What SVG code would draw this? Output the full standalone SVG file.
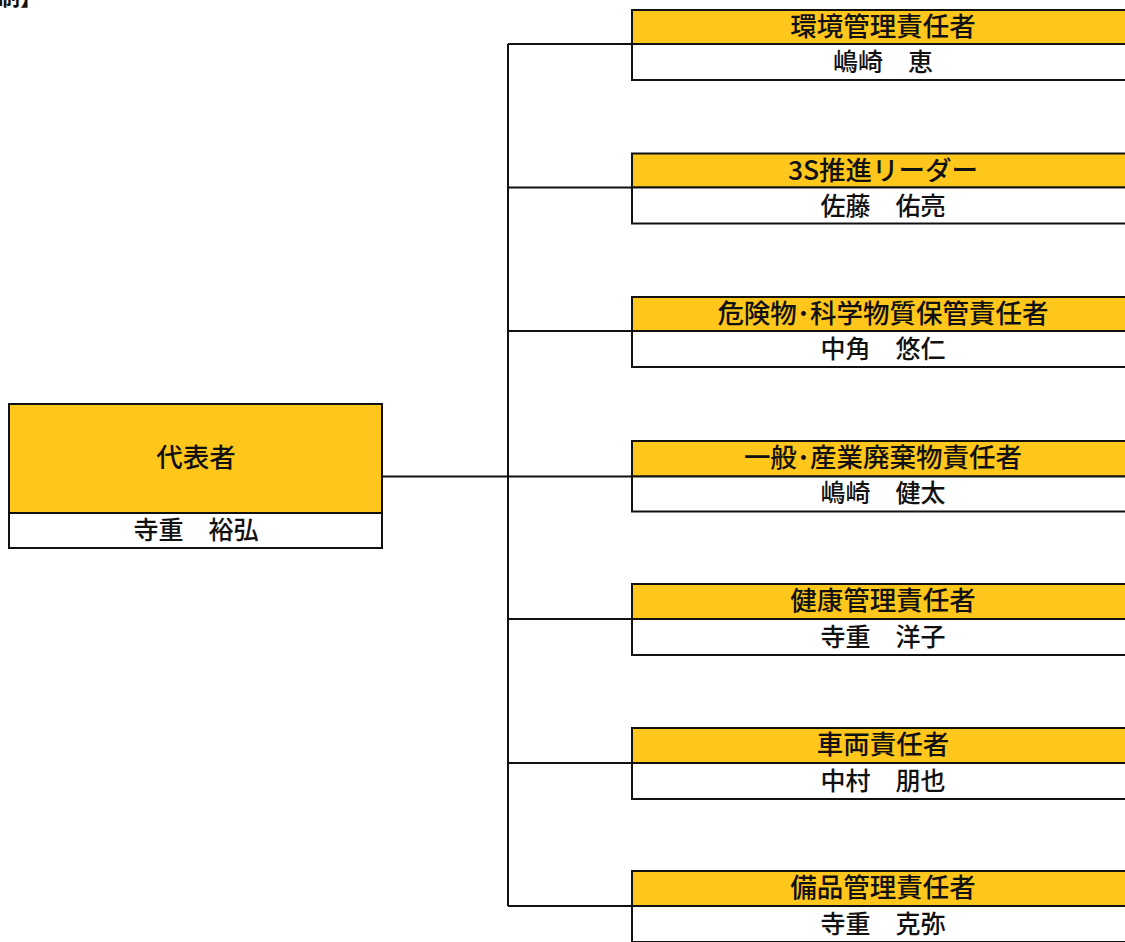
<svg xmlns="http://www.w3.org/2000/svg" width="1125" height="942" viewBox="0 0 1125 942">
<style>
.hd{fill:#FFC61C;stroke:#111;stroke-width:2}
.nm{fill:#fff;stroke:#111;stroke-width:2}
.t{font-family:"Noto Sans CJK JP","Liberation Sans",sans-serif;font-size:26.5px;fill:#111;text-anchor:middle;font-weight:500}
.n{font-family:"Noto Sans CJK JP","Liberation Sans",sans-serif;font-size:25px;fill:#111;text-anchor:middle;font-weight:500}
.c{fill:none;stroke:#111;stroke-width:2}
</style>
<rect width="1125" height="942" fill="#fff"/>
<text x="-2" y="5" style="font-family:'Noto Sans CJK JP',sans-serif;font-size:22px;font-weight:bold;fill:#111">制】</text>
<g id="connectors">
<path class="c" d="M382 476.5H632 M508 44V906 M508 44H632 M508 187.5H632 M508 331H632 M508 619H632 M508 763H632 M508 906H632"/>
</g>
<g id="rep">
<rect class="hd" x="9" y="404" width="373" height="109"/>
<rect class="nm" x="9" y="513" width="373" height="35"/>
<text class="t" x="196" y="467">代表者</text>
<text class="n" x="196" y="539">寺重　裕弘</text>
</g>
<g id="n1">
<rect class="hd" x="632" y="10" width="510" height="34"/>
<rect class="nm" x="632" y="44" width="510" height="36"/>
<text class="t" x="883" y="36">環境管理責任者</text>
<text class="n" x="883" y="71">嶋崎　恵</text>
</g>
<g id="n2">
<rect class="hd" x="632" y="153.5" width="510" height="34"/>
<rect class="nm" x="632" y="187.5" width="510" height="36"/>
<text class="t" x="883" y="179.5">3S推進リーダー</text>
<text class="n" x="883" y="214.5">佐藤　佑亮</text>
</g>
<g id="n3">
<rect class="hd" x="632" y="297" width="510" height="34"/>
<rect class="nm" x="632" y="331" width="510" height="36"/>
<text class="t" x="883" y="323">危険物･科学物質保管責任者</text>
<text class="n" x="883" y="358">中角　悠仁</text>
</g>
<g id="n4">
<rect class="hd" x="632" y="441" width="510" height="35.5"/>
<rect class="nm" x="632" y="476.5" width="510" height="35"/>
<text class="t" x="883" y="467">一般･産業廃棄物責任者</text>
<text class="n" x="883" y="502">嶋崎　健太</text>
</g>
<g id="n5">
<rect class="hd" x="632" y="584" width="510" height="35"/>
<rect class="nm" x="632" y="619" width="510" height="36"/>
<text class="t" x="883" y="610">健康管理責任者</text>
<text class="n" x="883" y="646">寺重　洋子</text>
</g>
<g id="n6">
<rect class="hd" x="632" y="728" width="510" height="35"/>
<rect class="nm" x="632" y="763" width="510" height="36"/>
<text class="t" x="883" y="754">車両責任者</text>
<text class="n" x="883" y="790">中村　朋也</text>
</g>
<g id="n7">
<rect class="hd" x="632" y="871" width="510" height="35"/>
<rect class="nm" x="632" y="906" width="510" height="36"/>
<text class="t" x="883" y="897">備品管理責任者</text>
<text class="n" x="883" y="933">寺重　克弥</text>
</g>
</svg>
